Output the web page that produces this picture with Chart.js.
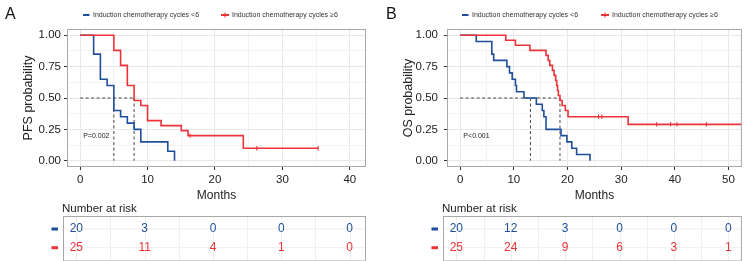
<!DOCTYPE html>
<html><head><meta charset="utf-8">
<script src="https://cdn.jsdelivr.net/npm/chart.js@4/dist/chart.umd.min.js"></script>
<style>
html,body{margin:0;padding:0;background:#fff;width:747px;height:261px;overflow:hidden}
canvas{position:absolute;top:0}
#pa{left:0}
#pb{left:375px}
</style></head><body>
<canvas id="pa" width="375" height="261"></canvas>
<canvas id="pb" width="372" height="261"></canvas>
<script>
const BLUE = '#1f4f9b';
const RED = '#ec3338';
const FONT = '"Liberation Sans", Arial, Helvetica, sans-serif';
const legendLabels = ['Induction chemotherapy cycles <6', 'Induction chemotherapy cycles \u22656'];

// ---- Panel A : PFS ----
const pfsTicks = [0, 10, 20, 30, 40];
const pfsBlueTime = [0, 2, 3, 4, 5, 6, 7, 8, 9, 13, 14];
const pfsBlueSurv = [1, 0.85, 0.65, 0.60, 0.40, 0.35, 0.30, 0.25, 0.15, 0.075, 0];
const pfsRedTime = [0, 5, 6, 7, 8, 9, 10, 12, 15, 16, 24.2, 35.3];
const pfsRedSurv = [1, 0.88, 0.76, 0.60, 0.48, 0.44, 0.32, 0.28, 0.24, 0.20, 0.10, 0.10];
const pfsRedCensorTime = [16.3, 26.2, 35.3];
const pfsRedCensorSurv = [0.20, 0.10, 0.10];
const pfsMedians = [5, 8];
const pfsRiskBlue = [20, 3, 0, 0, 0];
const pfsRiskRed = [25, 11, 4, 1, 0];
const pfsPval = 'P=0.002';

// ---- Panel B : OS ----
const osTicks = [0, 10, 20, 30, 40, 50];
const osBlueTime = [0, 3, 5.9, 6.25, 8.7, 9.2, 9.7, 10.3, 10.5, 11.9, 14.2, 15.3, 15.6, 16.0, 18.8, 19.9, 20.8, 21.7, 24.2];
const osBlueSurv = [1, 0.95, 0.85, 0.80, 0.75, 0.70, 0.65, 0.60, 0.55, 0.50, 0.45, 0.40, 0.35, 0.25, 0.20, 0.15, 0.10, 0.05, 0];
const osRedTime = [0, 8.5, 10.3, 13.0, 16.0, 16.4, 16.7, 17.2, 17.5, 17.8, 18.0, 18.15, 18.3, 18.6, 19.0, 19.6, 20.1, 31.3, 52.5];
const osRedSurv = [1, 0.96, 0.92, 0.88, 0.84, 0.80, 0.76, 0.72, 0.68, 0.64, 0.60, 0.56, 0.52, 0.48, 0.44, 0.40, 0.35, 0.29, 0.29];
const osRedCensorTime = [25.8, 26.4, 36.6, 39.2, 40.4, 45.9];
const osRedCensorSurv = [0.35, 0.35, 0.29, 0.29, 0.29, 0.29];
const osMedians = [13.1, 18.6];
const osRiskBlue = [20, 12, 3, 0, 0, 0];
const osRiskRed = [25, 24, 9, 6, 3, 1];
const osPval = 'P<0.001';

const yGridVals = [0, 0.125, 0.25, 0.375, 0.5, 0.625, 0.75, 0.875, 1];
const yMajorVals = [0, 0.25, 0.5, 0.75, 1];

Chart.defaults.font.family = FONT;
Chart.defaults.color = '#222';

const toXY = (t, s) => t.map((v, i) => ({x: v, y: s[i]}));

const deco = {
  id: 'deco',
  afterDraw(chart, args, o) {
    const {ctx, chartArea: ca, scales: {x, y}} = chart;
    ctx.save();
    // panel border
    ctx.strokeStyle = '#a8a8a8'; ctx.lineWidth = 1;
    ctx.strokeRect(ca.left + 0.5, ca.top + 0.5, ca.width - 1, ca.height - 1);
    // panel letter
    ctx.fillStyle = '#111'; ctx.font = '16px ' + FONT;
    ctx.textBaseline = 'middle'; ctx.textAlign = 'left';
    ctx.fillText(o.letter, o.letterX, 15);
    // legend
    const ly = 15;
    ctx.font = '7px ' + FONT; ctx.fillStyle = '#333';
    ctx.lineWidth = 2; ctx.strokeStyle = BLUE;
    ctx.beginPath(); ctx.moveTo(o.legX[0], ly); ctx.lineTo(o.legX[0] + 6.5, ly); ctx.stroke();
    ctx.fillText(legendLabels[0], o.legX[0] + 10, ly);
    ctx.strokeStyle = RED;
    ctx.beginPath(); ctx.moveTo(o.legX[1], ly); ctx.lineTo(o.legX[1] + 8, ly); ctx.stroke();
    ctx.lineWidth = 1;
    ctx.beginPath(); ctx.moveTo(o.legX[1] + 4, ly - 2.5); ctx.lineTo(o.legX[1] + 4, ly + 2.5); ctx.stroke();
    ctx.fillText(legendLabels[1], o.legX[1] + 11, ly);
    // p value
    ctx.font = '7px ' + FONT; ctx.fillStyle = '#222';
    ctx.fillText(o.pval, x.getPixelForValue(o.pvalX), y.getPixelForValue(0.2));
    // risk table
    const bl = ca.left - 4, br = ca.right, bt = 216, bb = 260.5;
    const map = v => bl + (x.getPixelForValue(v) - ca.left) * (br - bl) / (ca.right - ca.left);
    const rows = [229, 247.7];
    ctx.strokeStyle = '#efefef'; ctx.lineWidth = 1;
    for (let v = 0; v <= o.xMax; v += 5) {
      const px = Math.round(map(v)) + 0.5;
      ctx.beginPath(); ctx.moveTo(px, bt); ctx.lineTo(px, bb); ctx.stroke();
    }
    rows.forEach(r => { ctx.beginPath(); ctx.moveTo(bl, r); ctx.lineTo(br, r); ctx.stroke(); });
    ctx.strokeStyle = '#a8a8a8';
    ctx.strokeRect(bl + 0.5, bt + 0.5, br - bl - 1, bb - bt);
    ctx.fillStyle = '#222'; ctx.font = '11.5px ' + FONT; ctx.textAlign = 'left';
    ctx.fillText('Number at risk', bl - 1, 208.5);
    ctx.font = '12px ' + FONT; ctx.textAlign = 'center';
    [[o.riskBlue, BLUE], [o.riskRed, RED]].forEach(([arr, col], k) => {
      ctx.fillStyle = col;
      arr.forEach((n, i) => ctx.fillText(String(n), map(o.ticks[i]), rows[k]));
      ctx.fillRect(bl - 11.5, rows[k] - 1.5, 6.5, 3);
    });
    ctx.restore();
  }
};

function makePanel(id, p) {
  const gridVals = [];
  for (let v = 0; v <= p.xMax; v += 5) gridVals.push(v);
  const medMax = Math.max(...p.medians);
  const dash = {borderColor: '#333', borderWidth: 0.9, borderDash: [3, 2.5], pointRadius: 0, fill: false};
  const datasets = [
    {data: toXY(p.blueT, p.blueS), borderColor: BLUE, borderWidth: 1.6, stepped: true, pointRadius: 0, fill: false, order: 1},
    {data: toXY(p.redT, p.redS), borderColor: RED, borderWidth: 1.6, stepped: true, pointRadius: 0, fill: false, order: 0},
    {data: toXY(p.redCT, p.redCS), showLine: false, pointStyle: 'line', rotation: 90, pointRadius: 2.2,
     pointBorderColor: RED, pointBorderWidth: 1.1, borderColor: RED, order: 0},
    Object.assign({data: [{x: 0, y: 0.5}, {x: medMax, y: 0.5}], order: 2}, dash),
    ...p.medians.map(m => Object.assign({data: [{x: m, y: 0.5}, {x: m, y: 0}], order: 2}, dash))
  ];
  return new Chart(document.getElementById(id), {
    type: 'line',
    data: {datasets},
    plugins: [deco],
    options: {
      responsive: false, animation: false, events: [],
      layout: {padding: {left: p.padLeft, top: 29, right: p.padRight, bottom: 54}},
      plugins: {legend: {display: false}, tooltip: {enabled: false},
        deco: {letter: p.letter, letterX: p.letterX, legX: p.legX, pval: p.pval, pvalX: p.pvalX,
               riskBlue: p.riskBlue, riskRed: p.riskRed, ticks: p.ticks, xMax: p.xMax}},
      scales: {
        x: {
          type: 'linear', min: p.xMin, max: p.xMax2,
          afterBuildTicks: s => { s.ticks = gridVals.map(v => ({value: v})); },
          afterFit: s => { s.height = 40; },
          ticks: {autoSkip: false, maxRotation: 0, padding: 2.5, color: '#222', font: {size: 11.5},
                  callback: v => p.ticks.includes(v) ? String(v) : ''},
          grid: {color: c => p.ticks.includes(c.tick && c.tick.value) ? '#e8e8e8' : '#f3f3f3',
                 tickColor: c => p.ticks.includes(c.tick && c.tick.value) ? '#333' : 'rgba(0,0,0,0)',
                 tickLength: 3, tickWidth: 1, lineWidth: 1},
          border: {display: false},
          title: {display: true, text: 'Months', font: {size: 12}, color: '#222', padding: {top: 2, bottom: 4}}
        },
        y: {
          type: 'linear', min: -0.05, max: 1.05,
          afterBuildTicks: s => { s.ticks = yGridVals.map(v => ({value: v})); },
          afterFit: s => { s.width = 50; },
          ticks: {autoSkip: false, padding: p.yPad, color: '#222', font: {size: 11.5},
                  callback: v => yMajorVals.includes(v) ? v.toFixed(2) : ''},
          grid: {color: c => yMajorVals.includes(c.tick && c.tick.value) ? '#e8e8e8' : '#f3f3f3',
                 tickColor: c => yMajorVals.includes(c.tick && c.tick.value) ? '#333' : 'rgba(0,0,0,0)',
                 tickLength: 3, tickWidth: 1, lineWidth: 1},
          border: {display: false},
          title: {display: true, text: p.yTitle, font: {size: 12.5}, color: '#222', padding: {top: 4, bottom: 4}}
        }
      }
    }
  });
}

makePanel('pa', {
  letter: 'A', letterX: 5, legX: [83, 221], pval: pfsPval, pvalX: 0.45,
  yTitle: 'PFS probability', padLeft: 17, padRight: 9, yPad: 3,
  xMin: -1.95, xMax2: 42.4, xMax: 40, ticks: pfsTicks,
  blueT: pfsBlueTime, blueS: pfsBlueSurv, redT: pfsRedTime, redS: pfsRedSurv,
  redCT: pfsRedCensorTime, redCS: pfsRedCensorSurv, medians: pfsMedians,
  riskBlue: pfsRiskBlue, riskRed: pfsRiskRed
});
makePanel('pb', {
  letter: 'B', letterX: 11, legX: [87, 226], pval: osPval, pvalX: 0.6,
  yTitle: 'OS probability', padLeft: 22, padRight: 1, yPad: 6,
  xMin: -2.45, xMax2: 52.5, xMax: 50, ticks: osTicks,
  blueT: osBlueTime, blueS: osBlueSurv, redT: osRedTime, redS: osRedSurv,
  redCT: osRedCensorTime, redCS: osRedCensorSurv, medians: osMedians,
  riskBlue: osRiskBlue, riskRed: osRiskRed
});
</script>
</body></html>
